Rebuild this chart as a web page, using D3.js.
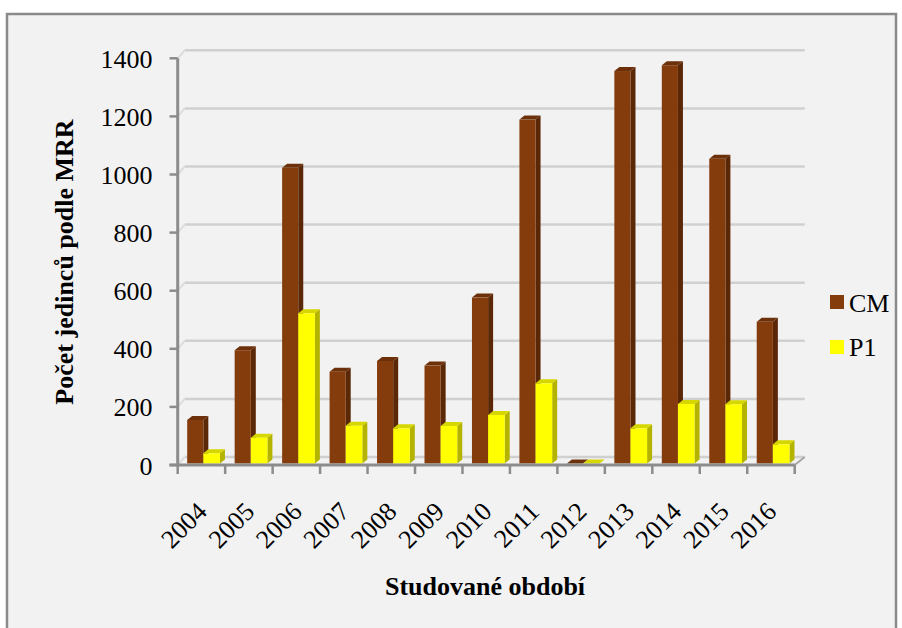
<!DOCTYPE html>
<html>
<head>
<meta charset="utf-8">
<script src="https://cdn.jsdelivr.net/npm/d3@7"></script>
<style>
  html, body { margin: 0; padding: 0; background: #ffffff; }
  svg { display: block; }
</style>
</head>
<body>
<svg id="chart" width="902" height="628"></svg>
<script>
// Počet jedinců podle MRR v jednotlivých letech
const years = ["2004","2005","2006","2007","2008","2009","2010","2011","2012","2013","2014","2015","2016"];
const cmValues = [150, 390, 1018, 316, 353, 337, 571, 1184, 0, 1351, 1371, 1049, 488];
const p1Values = [35, 89, 517, 130, 121, 129, 167, 276, 0, 121, 205, 204, 66];
const seriesNames = ["CM", "P1"];
const yTicks = [0, 200, 400, 600, 800, 1000, 1200, 1400];

const FONT = "Liberation Serif";
const svg = d3.select("#chart").attr("font-family", FONT);

// frame and plot background
svg.append("rect").attr("x", 7).attr("y", 14).attr("width", 889).attr("height", 640)
  .attr("fill", "#f2f2f2").attr("stroke", "#8a8a8a").attr("stroke-width", 2.5);

const x = d3.scaleBand().domain(years).range([177.7, 794.7]).padding(0);
const y = d3.scaleLinear().domain([0, 1400]).range([465, 58.3]);
const bw = x.bandwidth();

// 3D depth of the walls and of the columns
const wall = { dx: 7, dy: -8 };
const col = { dx: 5, dy: -4, lift: 1.5 };

const grid = svg.append("g");
// back-wall gridlines and side-wall stubs
yTicks.forEach(t => {
  grid.append("line")
    .attr("x1", x.range()[0] + wall.dx).attr("x2", x.range()[1] + wall.dx + 3)
    .attr("y1", y(t) + wall.dy).attr("y2", y(t) + wall.dy)
    .attr("stroke", "#d0d0d0").attr("stroke-width", 2.5);
  grid.append("line")
    .attr("x1", x.range()[0]).attr("x2", x.range()[0] + wall.dx)
    .attr("y1", y(t)).attr("y2", y(t) + wall.dy)
    .attr("stroke", "#dcdcdc").attr("stroke-width", 2);
});
// right edge of the floor
grid.append("line")
  .attr("x1", x.range()[1]).attr("x2", x.range()[1] + wall.dx + 3)
  .attr("y1", y(0)).attr("y2", y(0) + wall.dy)
  .attr("stroke", "#a6a6a6").attr("stroke-width", 2);

// columns
const series = [
  { name: "CM", values: cmValues, off: 0.20, w: 0.34, front: "#843c0c", side: "#5a2707", top: "#6c300a" },
  { name: "P1", values: p1Values, off: 0.54, w: 0.35, front: "#ffff00", side: "#b3b300", top: "#d6d600" }
];

const bars = svg.append("g");
years.forEach((yr, i) => {
  series.forEach(s => {
    const v = s.values[i];
    const x0 = x(yr) + s.off * bw;
    const x1 = x0 + s.w * bw;
    const yb = y(0) - col.lift;
    const yt = y(v) - col.lift;
    const g = bars.append("g");
    // side face
    g.append("path")
      .attr("d", `M${x1},${yb}L${x1 + col.dx},${yb + col.dy}L${x1 + col.dx},${yt + col.dy}L${x1},${yt}Z`)
      .attr("fill", s.side);
    // top face
    g.append("path")
      .attr("d", `M${x0},${yt}L${x0 + col.dx},${yt + col.dy}L${x1 + col.dx},${yt + col.dy}L${x1},${yt}Z`)
      .attr("fill", s.top);
    // front face
    if (v > 0) {
      g.append("rect").attr("x", x0).attr("y", yt).attr("width", x1 - x0).attr("height", yb - yt)
        .attr("fill", s.front);
    }
  });
});

// front axes
const axes = svg.append("g").attr("stroke", "#8c8c8c");
axes.append("line").attr("x1", x.range()[0]).attr("x2", x.range()[0])
  .attr("y1", y(1400)).attr("y2", y(0) + 1.5).attr("stroke-width", 3);
axes.append("line").attr("x1", 169.5).attr("x2", x.range()[1])
  .attr("y1", y(0)).attr("y2", y(0)).attr("stroke-width", 3);
yTicks.forEach(t => {
  axes.append("line").attr("x1", 169.5).attr("x2", x.range()[0])
    .attr("y1", y(t)).attr("y2", y(t)).attr("stroke-width", 2.5);
});
years.concat(["end"]).forEach((yr, i) => {
  const xx = x.range()[0] + i * bw;
  axes.append("line").attr("x1", xx).attr("x2", xx)
    .attr("y1", y(0)).attr("y2", y(0) + 9).attr("stroke-width", 2.5);
});

// value axis labels
svg.append("g").selectAll("text").data(yTicks).join("text")
  .attr("x", 152.5).attr("y", d => y(d) + 9.5)
  .attr("text-anchor", "end").attr("font-size", 26).attr("font-family", FONT)
  .text(d => d);

// category labels
svg.append("g").selectAll("text").data(years).join("text")
  .attr("transform", d => `translate(${x(d) + bw / 2 + 1},${507}) rotate(-45)`)
  .attr("text-anchor", "end").attr("dominant-baseline", "central")
  .attr("font-size", 26).attr("font-family", FONT)
  .text(d => d);

// axis titles
svg.append("text")
  .attr("transform", "translate(73.3,262) rotate(-90)")
  .attr("text-anchor", "middle").attr("font-size", 26).attr("font-weight", "bold").attr("font-family", FONT)
  .text("Počet jedinců podle MRR");
svg.append("text")
  .attr("x", 485).attr("y", 595)
  .attr("text-anchor", "middle").attr("font-size", 26).attr("font-weight", "bold").attr("font-family", FONT)
  .text("Studované období");

// legend
const legend = svg.append("g");
series.forEach((s, i) => {
  legend.append("rect").attr("x", 830).attr("y", 295 + i * 45).attr("width", 14).attr("height", 14)
    .attr("fill", s.front);
  legend.append("text").attr("x", 849).attr("y", 311.7 + i * 44.3)
    .attr("font-size", 26).attr("font-family", FONT).text(seriesNames[i]);
});
</script>
</body>
</html>
